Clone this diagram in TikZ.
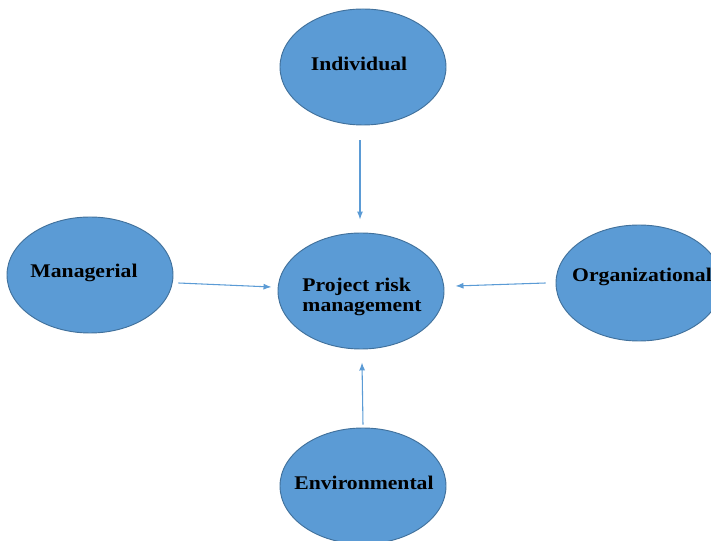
\documentclass[tikz,border=0pt]{standalone}
\usepackage{fontspec}
\setmainfont{Liberation Serif}[FakeStretch=1.12]
\usetikzlibrary{shapes.geometric,arrows.meta,calc}
\definecolor{blobfill}{HTML}{5B9BD5}
\definecolor{blobline}{HTML}{41719C}
\definecolor{arrcol}{HTML}{5B9BD5}
\tikzset{
  blob/.style={ellipse, draw=blobline, line width=0.7pt, fill=blobfill, inner sep=0pt,
    minimum width=124.5pt, minimum height=87pt},
  lbl/.style={font=\fontsize{14.5}{15}\selectfont\bfseries, text=black, inner sep=0pt, align=left},
  arr/.style={draw=arrcol, line width=0.8pt, -{Latex[length=6pt,width=4.5pt]}}
}
\begin{document}
\begin{tikzpicture}[x=0.75pt,y=-0.75pt]
\useasboundingbox (0,0) rectangle (711,541);
\node[blob] (ind) at (363,67) {};
\node[blob] (prm) at (361,291) {};
\node[blob] (man) at (90,275) {};
\node[blob] (org) at (639,283) {};
\node[blob] (env) at (363,486) {};
\node[lbl] (indt) at (359,64) {Individual};
\node[lbl] (prmt) at (362,297) {Project risk\\management};
\node[lbl] (mant) at (84,273) {Managerial};
\node[lbl] (orgt) at (642,277) {Organizational};
\node[lbl] (envt) at (364,483) {Environmental};
\draw[arr] ($(ind.south)+(-3,15)$) -- ($(prm.north)+(-1,-13)$);
\draw[arr] ($(man.east)+(5,8)$) -- ($(prm.west)+(-6,-4)$);
\draw[arr] ($(org.west)+(-10,0)$) -- ($(prm.east)+(11,-5)$);
\draw[arr] ($(env.north)+(0,-3)$) -- ($(prm.south)+(1,13)$);
\end{tikzpicture}
\end{document}
